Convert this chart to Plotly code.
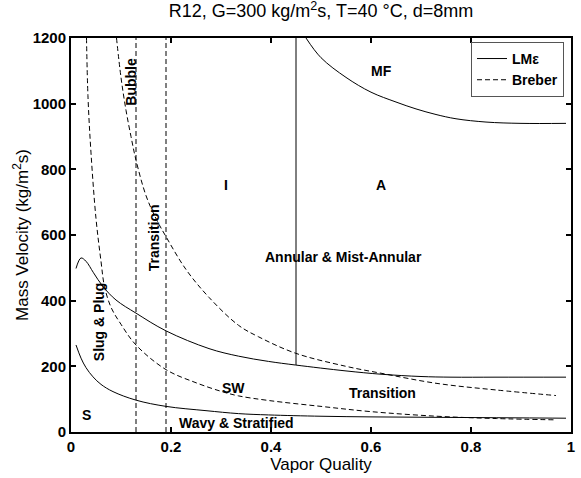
import plotly.graph_objects as go

# ---- data ----
# LM-epsilon (solid) boundaries
lm_upper_x = [0.01, 0.02, 0.03, 0.045, 0.064, 0.09, 0.13, 0.19, 0.276, 0.335, 0.395, 0.449, 0.55, 0.62, 0.70, 0.76, 0.85, 0.99]
lm_upper_y = [498, 530, 520, 485, 443, 402, 362, 308, 254, 231, 215, 204, 186, 176, 169, 167, 167, 167]

lm_lower_x = [0.01, 0.02, 0.03, 0.044, 0.06, 0.084, 0.13, 0.19, 0.27, 0.335, 0.395, 0.5, 0.6, 0.7, 0.8, 0.9, 0.99]
lm_lower_y = [265, 225, 196, 168, 145, 123, 97, 78, 65, 56, 52, 48, 46, 45, 44, 43, 42]

lm_mf_x = [0.47, 0.50, 0.55, 0.60, 0.65, 0.69, 0.73, 0.77, 0.83, 0.90, 0.99]
lm_mf_y = [1200, 1140, 1080, 1035, 1005, 984, 967, 954, 944, 940, 940]

lm_vert_x = [0.45, 0.45]
lm_vert_y = [204, 1200]

# Breber (dashed) boundaries
br_left_x = [0.031, 0.034, 0.04, 0.05, 0.06, 0.067, 0.08, 0.10, 0.13, 0.19, 0.25, 0.302, 0.335, 0.395, 0.5, 0.6, 0.732, 0.85, 0.97]
br_left_y = [1200, 1020, 850, 650, 520, 443, 380, 328, 265, 190, 150, 123, 110, 96, 78, 62, 48, 41, 37]

br_right_x = [0.091, 0.10, 0.11, 0.12, 0.13, 0.15, 0.17, 0.19, 0.23, 0.276, 0.335, 0.375, 0.449, 0.55, 0.62, 0.732, 0.85, 0.97]
br_right_y = [1200, 1080, 980, 900, 828, 720, 650, 595, 495, 410, 325, 290, 240, 200, 179, 148, 128, 111]

br_vert1_x = [0.13, 0.13]
br_vert2_x = [0.19, 0.19]
br_vert_y = [0, 1200]

# region labels: (text, x, y, angle)
labels = [
    ("MF", 0.62, 1100, 0),
    ("Bubble", 0.12, 1067, -90),
    ("I", 0.309, 752, 0),
    ("A", 0.62, 752, 0),
    ("Transition", 0.166, 590, -90),
    ("Annular &amp; Mist-Annular", 0.544, 534, 0),
    ("Slug &amp; Plug", 0.055, 336, -90),
    ("SW", 0.325, 133, 0),
    ("Transition", 0.623, 118, 0),
    ("Wavy &amp; Stratified", 0.33, 27, 0),
    ("S", 0.031, 52, 0),
]

FONT = "Liberation Sans, Arial, sans-serif"

fig = go.Figure()

solid = dict(color="black", width=1)
dashed = dict(color="black", width=1, dash="5px,3px")

fig.add_trace(go.Scatter(x=lm_upper_x, y=lm_upper_y, mode="lines", line=solid,
                         name="LMε", legendgroup="lm", showlegend=True, line_shape="spline"))
fig.add_trace(go.Scatter(x=lm_lower_x, y=lm_lower_y, mode="lines", line=solid,
                         legendgroup="lm", showlegend=False, line_shape="spline"))
fig.add_trace(go.Scatter(x=lm_mf_x, y=lm_mf_y, mode="lines", line=solid,
                         legendgroup="lm", showlegend=False, line_shape="spline"))
fig.add_trace(go.Scatter(x=lm_vert_x, y=lm_vert_y, mode="lines", line=solid,
                         legendgroup="lm", showlegend=False))

fig.add_trace(go.Scatter(x=br_left_x, y=br_left_y, mode="lines", line=dashed,
                         name="Breber", legendgroup="br", showlegend=True, line_shape="spline"))
fig.add_trace(go.Scatter(x=br_right_x, y=br_right_y, mode="lines", line=dashed,
                         legendgroup="br", showlegend=False, line_shape="spline"))
fig.add_trace(go.Scatter(x=br_vert1_x, y=br_vert_y, mode="lines", line=dashed,
                         legendgroup="br", showlegend=False))
fig.add_trace(go.Scatter(x=br_vert2_x, y=br_vert_y, mode="lines", line=dashed,
                         legendgroup="br", showlegend=False))

for text, x, y, ang in labels:
    fig.add_annotation(x=x, y=y, text=text, showarrow=False, textangle=ang,
                       font=dict(family=FONT, size=14, color="black", weight="bold"))

axis_common = dict(showline=True, linecolor="black", linewidth=2, mirror="ticks",
                   ticks="inside", ticklen=5, tickwidth=2, tickcolor="black",
                   showgrid=False, zeroline=False,
                   tickfont=dict(family=FONT, size=15, color="black", weight="bold"))

fig.update_layout(
    width=581, height=478,
    margin=dict(l=71, r=6, t=38, b=46),
    paper_bgcolor="white", plot_bgcolor="white",
    title=dict(text="R12, G=300 kg/m<sup>2</sup>s, T=40 °C, d=8mm",
               x=0.5, xref="paper", xanchor="center", y=0.99, yanchor="top",
               font=dict(family=FONT, size=18, color="black")),
    xaxis=dict(range=[0, 1], tickvals=[0, 0.2, 0.4, 0.6, 0.8, 1],
               ticktext=["0", "0.2", "0.4", "0.6", "0.8", "1"],
               title=dict(text="Vapor Quality", standoff=2,
                          font=dict(family=FONT, size=17, color="black")),
               **axis_common),
    yaxis=dict(range=[0, 1200], tickvals=[0, 200, 400, 600, 800, 1000, 1200],
               title=dict(text="Mass Velocity (kg/m<sup>2</sup>s)", standoff=0,
                          font=dict(family=FONT, size=17, color="black")),
               **axis_common),
    legend=dict(x=0.986, y=0.99, xanchor="right", yanchor="top",
                bgcolor="white", bordercolor="#555555", borderwidth=1,
                font=dict(family=FONT, size=14, color="black", weight="bold"),
                tracegroupgap=0, itemwidth=30),
    showlegend=True,
)

fig.write_html("out.html")
